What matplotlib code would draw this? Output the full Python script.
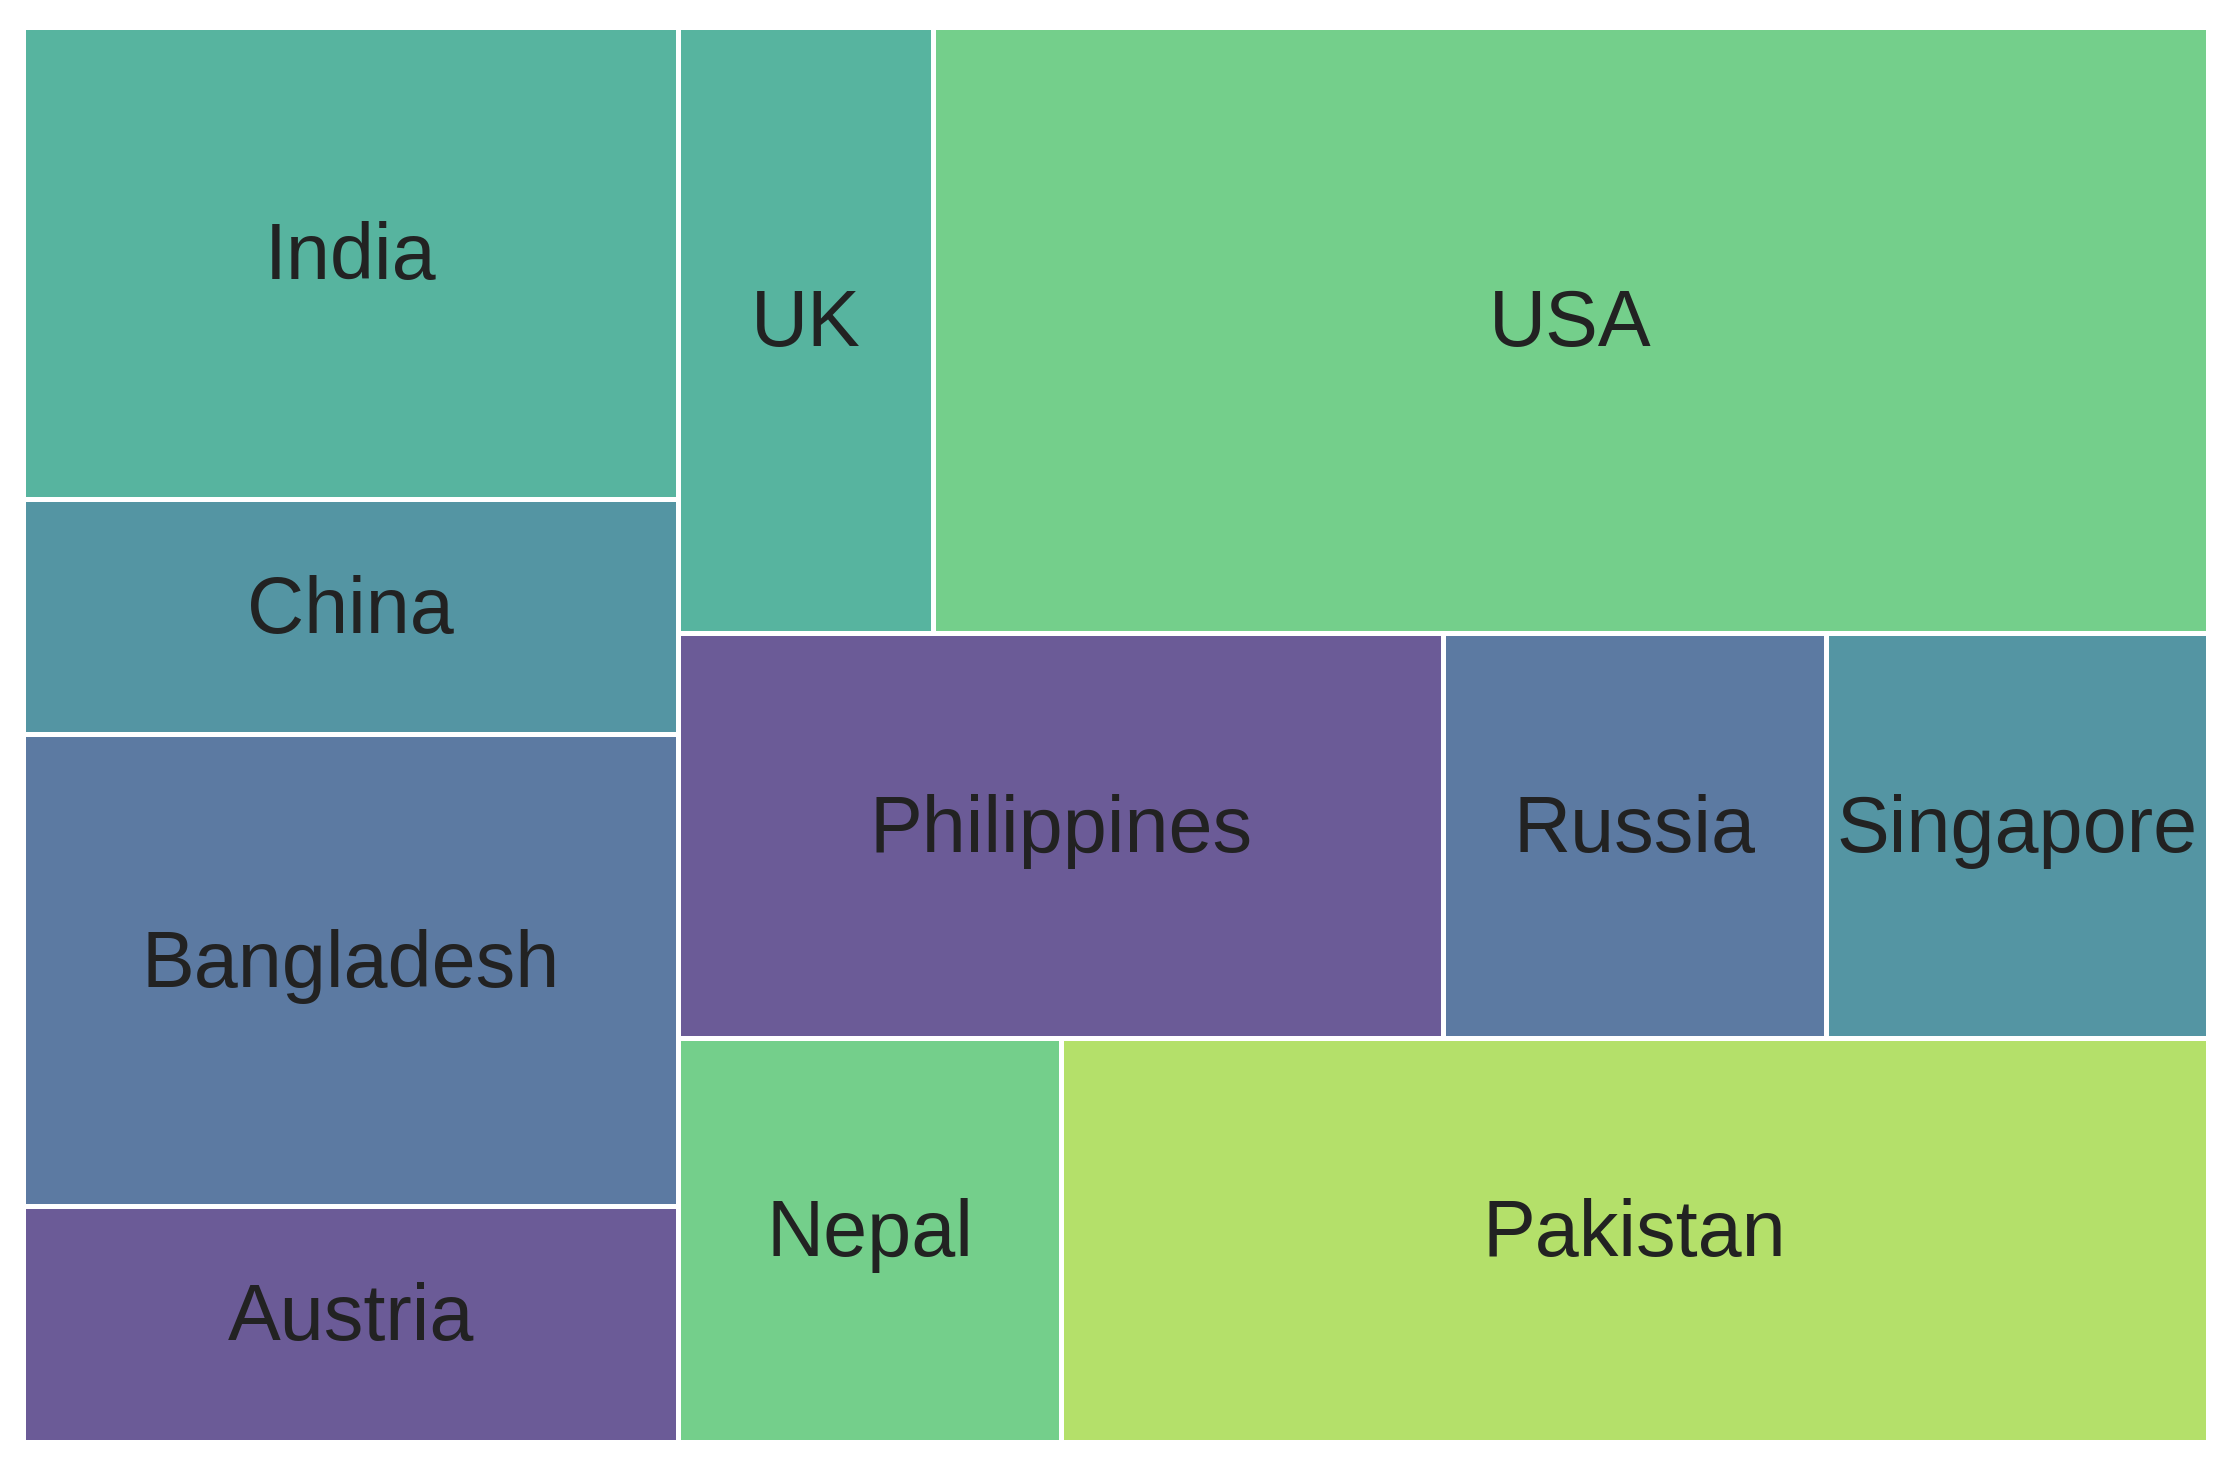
import matplotlib
matplotlib.use("Agg")
import matplotlib.pyplot as plt
from matplotlib.patches import Rectangle

# Data (relative sizes)
left_names = ["India", "China", "Bangladesh", "Austria"]
left_values = [2, 1, 2, 1]
row1_names = ["UK", "USA"]
row1_values = [1, 5]
row2_names = ["Philippines", "Russia", "Singapore"]
row2_values = [2, 1, 1]
row3_names = ["Nepal", "Pakistan"]
row3_values = [1, 3]

colors = {
    "India": "#57b49f", "UK": "#57b49f", "USA": "#74cf8b",
    "China": "#5495a3", "Singapore": "#5495a3",
    "Bangladesh": "#5c7aa2", "Russia": "#5c7aa2",
    "Austria": "#6b5b97", "Philippines": "#6b5b97",
    "Nepal": "#74cf8b", "Pakistan": "#b4e06a",
}

fig = plt.figure(figsize=(22.28, 14.65), dpi=100)
ax = fig.add_axes([0.0103, 0.0157, 0.9807, 0.9659])
W, H = 1.0, 1.0
total = sum(left_values) + sum(row1_values) + sum(row2_values) + sum(row3_values)

def draw(x, y, w, h, name):
    ax.add_patch(Rectangle((x, y), w, h, facecolor=colors[name],
                           edgecolor="white", linewidth=3.6))
    ax.text(x + w / 2, y + h / 2 + 0.003, name, ha="center", va="center",
            fontsize=57, color="#222222", family="Liberation Sans")

# left column, stacked top to bottom
lw = W * sum(left_values) / total
ytop = H
lsum = sum(left_values)
for n, v in zip(left_names, left_values):
    h = H * v / lsum
    draw(0, ytop - h, lw, h, n)
    ytop -= h

# right part: rows
rw = W - lw
rows = [(row1_names, row1_values), (row2_names, row2_values), (row3_names, row3_values)]
rsum = sum(sum(v) for _, v in rows)
ytop = H
for names, vals in rows:
    h = H * sum(vals) / rsum
    x = lw
    for n, v in zip(names, vals):
        w = rw * v / sum(vals)
        draw(x, ytop - h, w, h, n)
        x += w
    ytop -= h

ax.set_xlim(0, W)
ax.set_ylim(0, H)
ax.axis("off")
fig.savefig("out.png", dpi=100)
